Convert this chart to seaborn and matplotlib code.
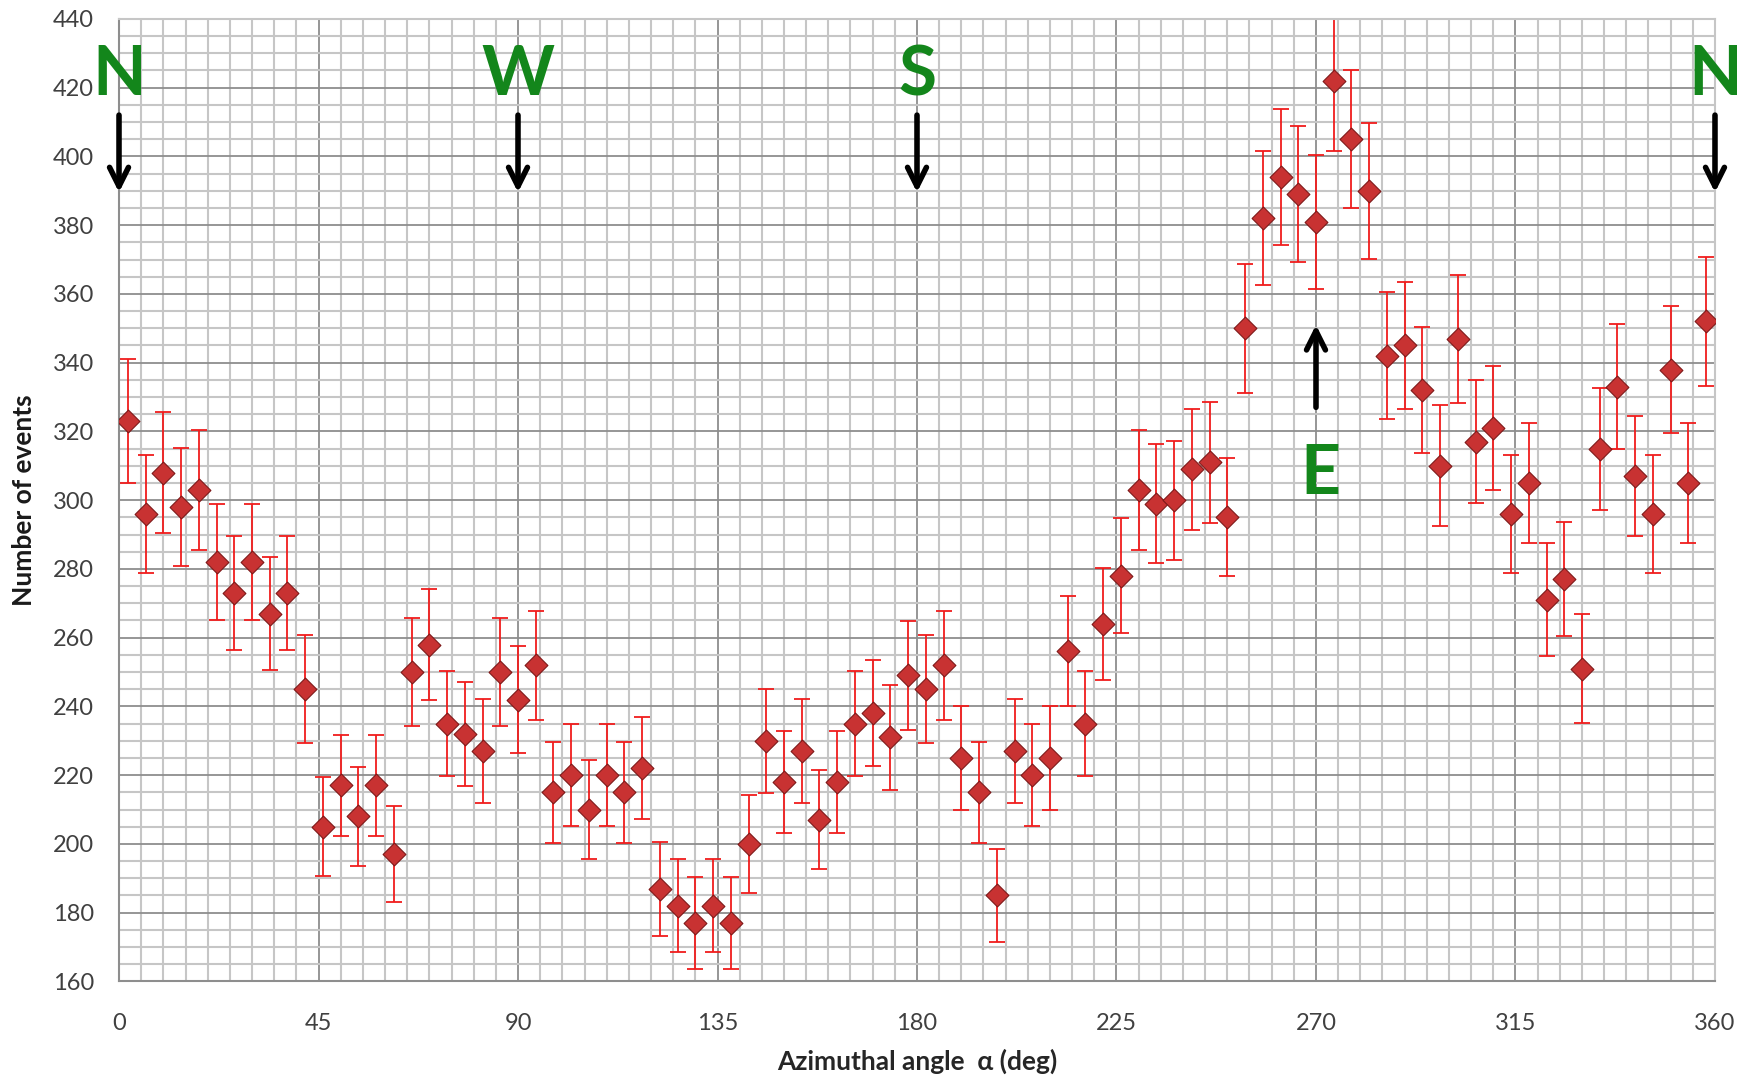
#!/usr/bin/env python3

# libraries
import matplotlib
matplotlib.use('Agg')

import matplotlib.pyplot as plt
import numpy as np
import seaborn as sns
from matplotlib.ticker import MultipleLocator

# ------------------------------------------------------------
#     Data
# ------------------------------------------------------------

# bin centres of the azimuthal angle, 4 deg wide bins
angles = np.arange(2, 360, 4)

# number of events per bin
counts = [
    323, 296, 308, 298, 303, 282, 273, 282, 267, 273,
    245, 205, 217, 208, 217, 197, 250, 258, 235, 232,
    227, 250, 242, 252, 215, 220, 210, 220, 215, 222,
    187, 182, 177, 182, 177, 200, 230, 218, 227, 207,
    218, 235, 238, 231, 249, 245, 252, 225, 215, 185,
    227, 220, 225, 256, 235, 264, 278, 303, 299, 300,
    309, 311, 295, 350, 382, 394, 389, 381, 422, 405,
    390, 342, 345, 332, 310, 347, 317, 321, 296, 305,
    271, 277, 251, 315, 333, 307, 296, 338, 305, 352,
]

# Poisson errors on the counts
errors = np.sqrt(counts)

# compass directions marked on top of the plot
compass_labels = ["N", "W", "S", "N"]
compass_angles = [0, 90, 180, 360]
east_label = "E"
east_angle = 270

xlabel = "Azimuthal angle  \u03b1 (deg)"
ylabel = "Number of events"

# ------------------------------------------------------------
#     Plotting
# ------------------------------------------------------------

sns.set_theme(style="white")
plt.rcParams['font.family'] = ['Lato', 'DejaVu Sans']

major_col = '#8e8e8e'
minor_col = '#c6c6c6'
text_col = '#404040'
green = '#13861b'

fig = plt.figure(figsize=(17.45, 10.78), dpi=100)
ax = fig.add_axes([0.0682, 0.0896, 0.9146, 0.8929])

# error bars first, markers on top
ax.errorbar(angles, counts, yerr=errors, fmt='none', ecolor='#f01c1c',
            elinewidth=1.3, capsize=6, capthick=1.3, zorder=2)
sns.scatterplot(x=angles, y=counts, marker='D', s=135, color='#c83232',
                edgecolor='#7e1818', linewidth=0.8, ax=ax, zorder=3)

# axes ranges and ticks
ax.set_xlim(0, 360)
ax.set_ylim(160, 440)
ax.xaxis.set_major_locator(MultipleLocator(45))
ax.xaxis.set_minor_locator(MultipleLocator(5))
ax.yaxis.set_major_locator(MultipleLocator(20))
ax.yaxis.set_minor_locator(MultipleLocator(5))

# Excel like grid
ax.set_axisbelow(True)
ax.grid(which='minor', color=minor_col, linewidth=1.5)
ax.grid(which='major', color=major_col, linewidth=1.3)

for side in ['left', 'bottom']:
    ax.spines[side].set_color(major_col)
    ax.spines[side].set_linewidth(1.5)
for side in ['top', 'right']:
    ax.spines[side].set_color(minor_col)
    ax.spines[side].set_linewidth(1.5)

ax.tick_params(which='major', direction='out', length=8, width=1.3,
               color=major_col, labelsize=17, labelcolor=text_col)
ax.tick_params(axis='x', which='major', pad=15)
ax.tick_params(axis='y', which='major', pad=10)
ax.tick_params(which='minor', length=0)

ax.set_xlabel(xlabel, fontsize=19, fontweight='bold', color='#262626', labelpad=10)
ax.set_ylabel(ylabel, fontsize=19, fontweight='bold', color='#1a1a1a', labelpad=12)

# compass labels with arrows pointing down
for lab, ang in zip(compass_labels, compass_angles):
    ax.text(ang, 423.5, lab, ha='center', va='center', fontsize=50,
            fontweight='bold', color=green, zorder=5, clip_on=False)
    ax.annotate('', xy=(ang, 389.5), xytext=(ang, 412),
                arrowprops=dict(arrowstyle='->', lw=4, color='black',
                                mutation_scale=34, shrinkA=0, shrinkB=0),
                zorder=5)

# east: arrow pointing up, label below
ax.text(east_angle + 1, 307.5, east_label, ha='center', va='center', fontsize=50,
        fontweight='bold', color=green, zorder=5)
ax.annotate('', xy=(east_angle, 351), xytext=(east_angle, 327),
            arrowprops=dict(arrowstyle='->', lw=4, color='black',
                            mutation_scale=34, shrinkA=0, shrinkB=0),
            zorder=5)

plt.savefig("out.png", dpi=100)
plt.close(fig)
